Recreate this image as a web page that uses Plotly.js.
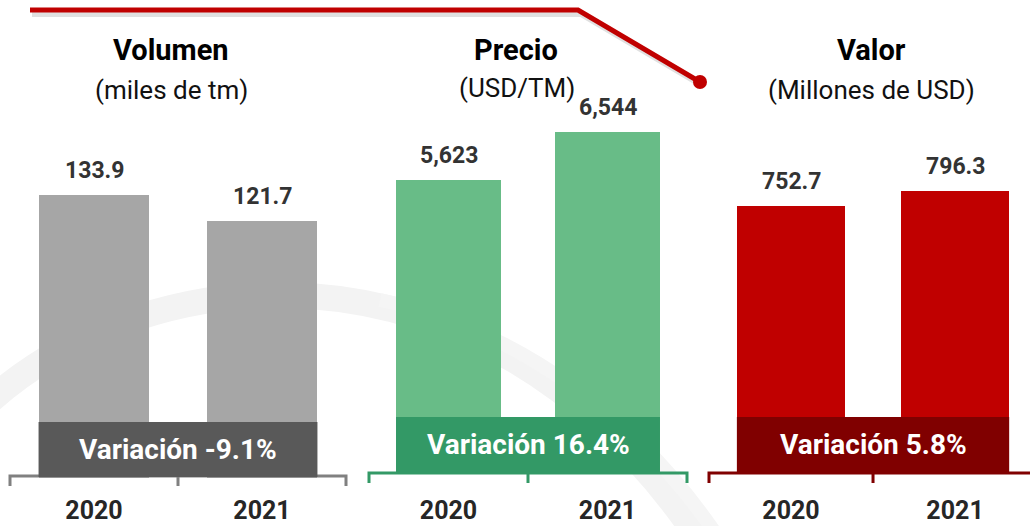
<!DOCTYPE html>
<html>
<head>
<meta charset="utf-8">
<script src="https://cdn.plot.ly/plotly-3.0.1.min.js"></script>
<style>html,body{margin:0;padding:0;background:#fff;}#chart{width:1030px;height:526px;}</style>
</head>
<body>
<div id="chart"></div>
<script>
// ---- data ----
const categories = ['2020', '2021'];
const volumen = [133.9, 121.7];
const precio = [5623, 6544];
const valor = [752.7, 796.3];
const panelTitles = ['Volumen', 'Precio', 'Valor'];
const panelUnits = ['(miles de tm)', '(USD/TM)', '(Millones de USD)'];
const variationWord = 'Variación';

// ---- styling ----
const W = 1030, H = 526;
const FONT = 'Roboto, "Liberation Sans", sans-serif';
const px = v => v / W;
const py = v => 1 - v / H;

const series = [volumen, precio, valor];
const barColors = ['#a6a6a6', '#68bc87', '#c00000'];
const bandColors = ['#595959', '#339966', '#800000'];
const bracketColors = ['#808080', '#339966', '#800000'];
const fmt = [
  v => v.toFixed(1),
  v => v.toLocaleString('en-US'),
  v => v.toFixed(1)
];
// pixel layout of each panel
const panels = [
  {x0: 10, x1: 346, range: [-0.5, 1.5], base: 478, top: 195, bandTop: 422, bandBot: 477, brY: 476, standoff: 15},
  {x0: 369, x1: 687, range: [-0.5, 1.5], base: 473, top: 180, bandTop: 417, bandBot: 472, brY: 473, standoff: 20},
  {x0: 709, x1: 1030, range: [-0.5, 1.457], base: 473, top: 206, bandTop: 417, bandBot: 472, brY: 473, standoff: 20}
];
const BARW = 0.66;

const traces = [];
const layout = {
  width: W, height: H,
  margin: {l: 0, r: 0, t: 0, b: 0},
  paper_bgcolor: '#ffffff', plot_bgcolor: 'rgba(0,0,0,0)',
  showlegend: false,
  bargap: 0,
  shapes: [], annotations: [],
  font: {family: FONT}
};

// faint watermark arcs
layout.shapes.push({type: 'path', xref: 'paper', yref: 'paper', layer: 'below',
  path: `M ${px(-30)},${py(420)} C ${px(130)},${py(255)} ${px(480)},${py(215)} ${px(700)},${py(540)}`,
  line: {color: '#f3f3f3', width: 26}});
layout.shapes.push({type: 'path', xref: 'paper', yref: 'paper', layer: 'below',
  path: `M ${px(380)},${py(300)} C ${px(520)},${py(330)} ${px(640)},${py(420)} ${px(720)},${py(540)}`,
  line: {color: '#f5f5f5', width: 14}});

panels.forEach((p, i) => {
  const ax = i === 0 ? '' : String(i + 1);
  const data = series[i];
  const scale = (p.base - p.top) / data[0];
  traces.push({
    type: 'bar', x: categories, y: data, xaxis: 'x' + ax, yaxis: 'y' + ax,
    width: BARW, marker: {color: barColors[i], line: {width: 0}},
    hoverinfo: 'skip'
  });
  layout['xaxis' + ax] = {
    domain: [px(p.x0), px(p.x1)], anchor: 'y' + ax, type: 'category',
    range: p.range, showgrid: false, zeroline: false, showline: false, ticks: '',
    tickfont: {family: FONT, size: 25, weight: 700, color: '#262626'},
    ticklabelstandoff: p.standoff, fixedrange: true
  };
  layout['yaxis' + ax] = {
    domain: [1 - p.base / H, 1], anchor: 'x' + ax, range: [0, p.base / scale],
    visible: false, fixedrange: true
  };
  // value labels
  data.forEach((v, k) => {
    layout.annotations.push({
      xref: 'x' + ax, yref: 'y' + ax, x: k, y: v,
      text: fmt[i](v), showarrow: false, xanchor: 'center', yanchor: 'bottom', yshift: 9,
      font: {family: FONT, size: 23, weight: 700, color: '#333333'}
    });
  });
  // bracket
  const mid = (p.x0 + (p.x1 - p.x0) * (0.5 - p.range[0]) / (p.range[1] - p.range[0]));
  const t = p.brY + 10;
  let path = `M ${px(p.x0)},${py(t)} L ${px(p.x0)},${py(p.brY)} L ${px(p.x1 + (i === 2 ? 10 : 0))},${py(p.brY)}`;
  if (i !== 2) path += ` L ${px(p.x1)},${py(t)}`;
  path += ` M ${px(mid)},${py(p.brY)} L ${px(mid)},${py(t)}`;
  layout.shapes.push({type: 'path', xref: 'paper', yref: 'paper', path: path,
    line: {color: bracketColors[i], width: 3}});
  // variation band
  const pct = (data[1] / data[0] - 1) * 100;
  layout.shapes.push({type: 'rect', xref: 'x' + ax, yref: 'paper',
    x0: -BARW / 2, x1: 1 + BARW / 2, y0: py(p.bandBot), y1: py(p.bandTop),
    fillcolor: bandColors[i], line: {width: 0}});
  layout.annotations.push({
    xref: 'x' + ax, yref: 'paper', x: 0.5, y: py((p.bandTop + p.bandBot) / 2),
    text: variationWord + ' ' + pct.toFixed(1) + '%', showarrow: false,
    xanchor: 'center', yanchor: 'middle',
    font: {family: FONT, size: 28, weight: 700, color: '#ffffff'}
  });
});

// panel titles
const titleX = [171, 516, 871];
const unitX = [171, 517, 871];
const unitY = [90, 88, 90];
panelTitles.forEach((t, i) => {
  layout.annotations.push({xref: 'paper', yref: 'paper', x: px(titleX[i]), y: py(50),
    xanchor: 'center', yanchor: 'middle',
    text: t, showarrow: false, font: {family: FONT, size: 29, weight: 700, color: '#000000'}});
  layout.annotations.push({xref: 'paper', yref: 'paper', x: px(unitX[i]), y: py(unitY[i]),
    xanchor: 'center', yanchor: 'middle',
    text: panelUnits[i], showarrow: false, font: {family: FONT, size: 26, color: '#111111'}});
});

// decorative red line with shadow
layout.shapes.push({type: 'path', xref: 'paper', yref: 'paper',
  path: `M ${px(32)},${py(14)} L ${px(581)},${py(14)} L ${px(703)},${py(86)}`,
  line: {color: 'rgba(0,0,0,0.12)', width: 6}});
layout.shapes.push({type: 'path', xref: 'paper', yref: 'paper',
  path: `M ${px(30)},${py(10)} L ${px(578)},${py(10)} L ${px(700)},${py(82)}`,
  line: {color: '#c00000', width: 5}});
layout.shapes.push({type: 'circle', xref: 'paper', yref: 'paper',
  x0: px(693), x1: px(707), y0: py(89), y1: py(75),
  fillcolor: '#c00000', line: {width: 0}});

Plotly.newPlot('chart', traces, layout, {displayModeBar: false, staticPlot: true});
</script>
</body>
</html>
